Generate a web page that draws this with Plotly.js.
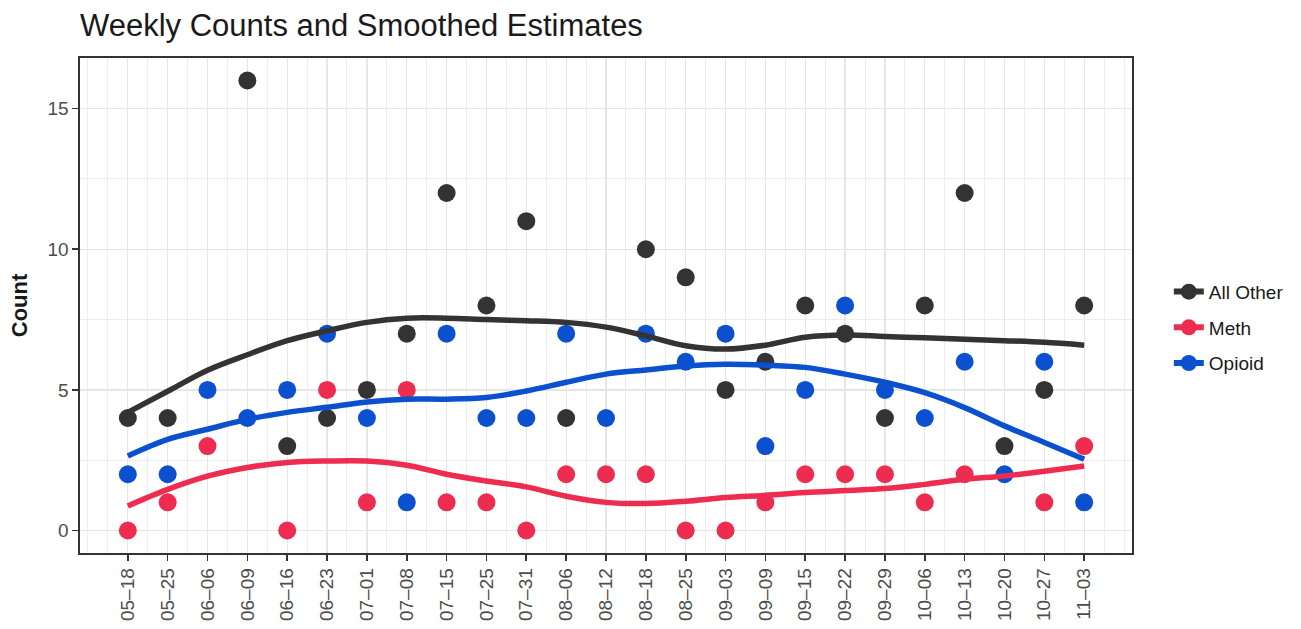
<!DOCTYPE html>
<html>
<head>
<meta charset="utf-8">
<script src="https://cdn.plot.ly/plotly-3.0.1.min.js"></script>
<style>html,body{margin:0;padding:0;background:#fff;}#chart{width:1301px;height:629px;}</style>
</head>
<body>
<div id="chart"></div>
<script>
// Week labels (categories)
const weeks = ["05–18","05–25","06–06","06–09","06–16","06–23","07–01","07–08","07–15","07–25","07–31","08–06","08–12","08–18","08–25","09–03","09–09","09–15","09–22","09–29","10–06","10–13","10–20","10–27","11–03"];
// Weekly counts (null = not visible in the picture)
const allOther = [4,4,null,16,3,4,5,7,12,8,11,4,null,10,9,5,6,8,7,4,8,12,3,5,8];
const meth     = [0,1,3,null,0,5,1,5,1,1,0,2,2,2,0,0,1,2,2,2,1,2,null,1,3];
const opioid   = [2,2,5,4,5,7,4,1,7,4,4,7,4,7,6,7,3,5,8,5,4,6,2,6,1];
// Smoothed estimates
const allOtherSmooth = [4.2,4.95,5.7,6.25,6.75,7.1,7.4,7.55,7.55,7.5,7.46,7.4,7.23,6.92,6.57,6.45,6.59,6.87,6.95,6.9,6.85,6.8,6.75,6.69,6.59];
const methSmooth     = [0.87,1.46,1.93,2.24,2.42,2.47,2.47,2.32,2.0,1.76,1.55,1.22,1.0,0.96,1.04,1.17,1.25,1.35,1.42,1.49,1.64,1.82,1.94,2.11,2.29];
const opioidSmooth   = [2.65,3.24,3.6,3.95,4.2,4.38,4.57,4.67,4.67,4.73,4.96,5.27,5.56,5.71,5.85,5.91,5.88,5.8,5.56,5.27,4.9,4.37,3.72,3.13,2.53];
const seriesNames = ["All Other","Meth","Opioid"];

const colors = ["#333333","#EE2C50","#0B50CF"];
const idx = weeks.map((_, i) => i + 1);
const counts = [allOther, meth, opioid];
const smooths = [allOtherSmooth, methSmooth, opioidSmooth];

const traces = [];
counts.forEach((c, k) => {
  traces.push({x: idx, y: c, type: 'scatter', mode: 'markers', name: seriesNames[k],
    marker: {color: colors[k], size: 18, line: {width: 0}}, showlegend: false, hoverinfo: 'x+y'});
});
smooths.forEach((s, k) => {
  traces.push({x: idx, y: s, type: 'scatter', mode: 'lines', name: seriesNames[k],
    line: {color: colors[k], width: 5.5, shape: 'spline', smoothing: 1}, showlegend: false});
});
// legend keys (point + line, as in the source legend)
seriesNames.forEach((n, k) => {
  traces.push({x: [null], y: [null], type: 'scatter', mode: 'lines+markers', name: n,
    legendgroup: 'g' + k, line: {color: colors[k], width: 6}, marker: {color: colors[k], size: 18}});
});

const layout = {
  width: 1301, height: 629,
  margin: {l: 80, r: 165, t: 58, b: 76},
  paper_bgcolor: '#fff', plot_bgcolor: '#fff',
  font: {family: 'Liberation Sans, Arial, sans-serif', color: '#4D4D4D', size: 20},
  title: {text: 'Weekly Counts and Smoothed Estimates', x: 0, xref: 'paper', xanchor: 'left',
    y: 0.96, yanchor: 'middle', font: {size: 31, color: '#1a1a1a'}},
  xaxis: {range: [-0.2, 26.2], tickvals: idx, ticktext: weeks, tickangle: -90,
    showgrid: true, gridcolor: '#E6E6E6', gridwidth: 1.3, zeroline: false,
    minor: {dtick: 0.5, tick0: 0.5, showgrid: true, gridcolor: '#EDEDED', gridwidth: 1, ticklen: 0},
    ticks: 'outside', ticklen: 6, tickwidth: 1.6, tickcolor: '#333',
    showline: true, mirror: true, linecolor: '#333', linewidth: 1.6,
    tickfont: {size: 19, color: '#4D4D4D'}},
  yaxis: {range: [-0.8, 16.8], tickvals: [0,5,10,15], showgrid: true, gridcolor: '#E6E6E6', gridwidth: 1.3, zeroline: false,
    minor: {dtick: 2.5, showgrid: true, gridcolor: '#EDEDED', gridwidth: 1, ticklen: 0},
    ticks: 'outside', ticklen: 6, tickwidth: 1.6, tickcolor: '#333',
    showline: true, mirror: true, linecolor: '#333', linewidth: 1.6,
    tickfont: {size: 19, color: '#4D4D4D'},
    title: {text: '<b>Count</b>', font: {size: 22, color: '#1a1a1a'}, standoff: 14}},
  legend: {x: 1.035, xanchor: 'left', y: 0.455, yanchor: 'middle', font: {size: 19, color: '#1a1a1a'},
    tracegroupgap: 8, bgcolor: 'rgba(0,0,0,0)'},
  showlegend: true
};

Plotly.newPlot('chart', traces, layout, {displayModeBar: false, staticPlot: true});
</script>
</body>
</html>
